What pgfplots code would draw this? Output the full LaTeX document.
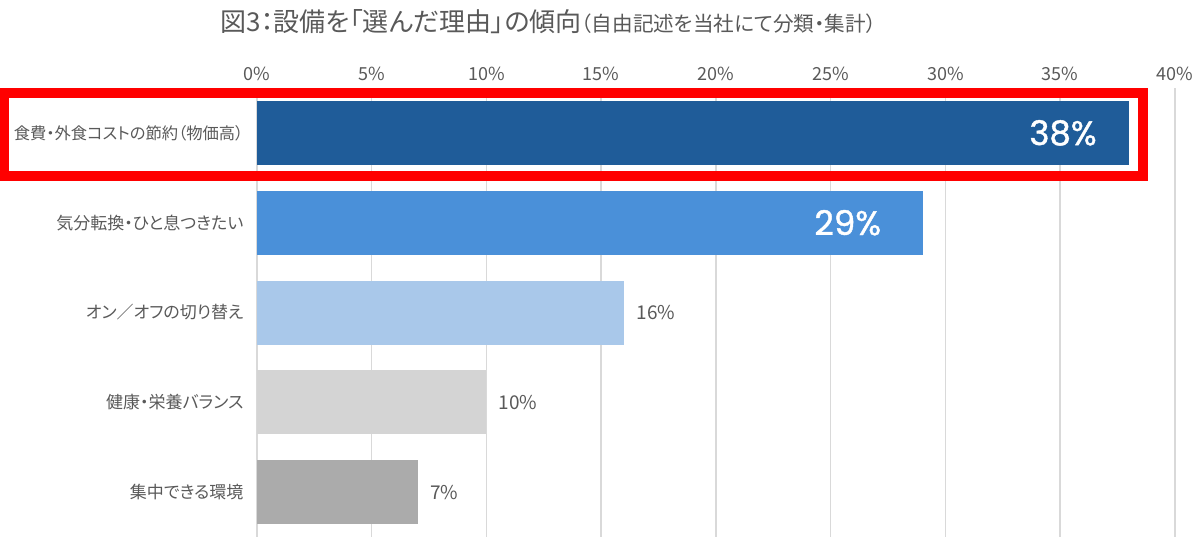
\documentclass[border=0pt]{standalone}
\usepackage{fontspec}
\setmainfont{Noto Sans CJK JP}[RawFeature=+palt]
\newfontfamily\popp{Poppins}[RawFeature={embolden=1.2}]
\usepackage{pgfplots}
\pgfplotsset{compat=1.18}
\definecolor{cA}{HTML}{1F5C99}
\definecolor{cB}{HTML}{4A90D9}
\definecolor{cC}{HTML}{A9C8EA}
\definecolor{cD}{HTML}{D4D4D4}
\definecolor{cE}{HTML}{ABABAB}
\definecolor{txt}{HTML}{595959}
\definecolor{grd}{HTML}{D9D9D9}
\begin{document}
\begin{tikzpicture}
\useasboundingbox (-128.5pt,-10pt) rectangle (471.5pt,268.5pt);
\begin{axis}[
  at={(0pt,0pt)}, anchor=south west,
  scale only axis, width=459pt, height=224.5pt,
  xmin=0, xmax=40, ymin=-0.5, ymax=4.5, y dir=reverse,
  xbar, bar width=32pt,
  axis line style={draw=none},
  tick style={draw=none},
  xmajorgrids, grid style={draw=grd, line width=0.75pt},
  xtick={0,5,...,40}, xticklabel pos=upper,
  xticklabel={\pgfmathprintnumber{\tick}\%},
  /pgf/number format/assume math mode=true,
  x tick label style={font=\fontsize{9}{9}\selectfont, text=txt},
  ytick={0,1,2,3,4},
  yticklabels={{\fontsize{8.15}{8.15}\selectfont 食費・外食コストの節約（物価高）},気分転換・ひと息つきたい,オン／オフの切り替え,健康・栄養バランス,集中できる環境},
  y tick label style={font=\fontsize{8.5}{8.5}\selectfont, text=txt, xshift=1pt},
  every axis plot/.append style={bar shift=0pt, draw=none},
  nodes near coords={\pgfmathprintnumber{\pgfplotspointmeta}\%},
]
\addplot[fill=cA, every node near coord/.append style={anchor=east, inner sep=0pt, xshift=-16pt, text=white, font=\popp\fontsize{17}{17}\selectfont}] coordinates {(38,0)};
\addplot[fill=cB, every node near coord/.append style={anchor=east, inner sep=0pt, xshift=-20.5pt, text=white, font=\popp\fontsize{17}{17}\selectfont}] coordinates {(29,1)};
\addplot[fill=cC, every node near coord/.append style={anchor=west, inner sep=0pt, xshift=6pt, text=txt, font=\fontsize{9.5}{9.5}\selectfont}] coordinates {(16,2)};
\addplot[fill=cD, every node near coord/.append style={anchor=west, inner sep=0pt, xshift=6pt, text=txt, font=\fontsize{9.5}{9.5}\selectfont}] coordinates {(10,3)};
\addplot[fill=cE, every node near coord/.append style={anchor=west, inner sep=0pt, xshift=6pt, text=txt, font=\fontsize{9.5}{9.5}\selectfont}] coordinates {(7,4)};
\end{axis}
\draw[red, line width=5pt] (-126.25pt,180.5pt) rectangle (443pt,222pt);
\node[anchor=west, inner sep=0pt, text=txt] at (-18.5pt,257.5pt) {{\fontsize{13}{13}\selectfont 図3：設備を「選んだ理由」の傾向}{\fontsize{10.3}{10.3}\selectfont （自由記述を当社にて分類・集計）}};
\end{tikzpicture}
\end{document}
